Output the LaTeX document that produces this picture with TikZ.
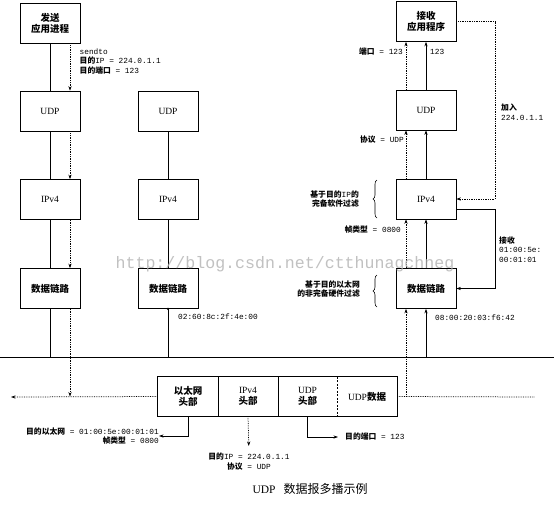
\documentclass[tikz,border=0pt]{standalone}
\usepackage{fontspec}
\setmainfont{Liberation Serif}
\setmonofont{Liberation Mono}
\newfontfamily\cjk{Noto Sans CJK SC}
\newcommand\zh[1]{{\cjk\bfseries #1}}
\usetikzlibrary{arrows.meta,decorations.pathreplacing}
\begin{document}
\begin{tikzpicture}[x=1pt,y=-1pt,
  >={Stealth[length=4.5pt,width=3.2pt]},
  box/.style={draw,line width=0.7pt,fill=white,minimum width=60pt,minimum height=40pt,inner sep=0pt,align=center,font=\fontsize{9.5}{11}\selectfont},
  fbox/.style={minimum height=39pt,inner sep=0pt,align=center,font=\fontsize{9.5}{10.5}\selectfont},
  lbl/.style={inner sep=0pt,align=left,font=\ttfamily\fontsize{7.8}{9.5}\selectfont},
  lblr/.style={inner sep=0pt,align=right,font=\ttfamily\fontsize{7.8}{9.5}\selectfont},
  dline/.style={densely dotted,line width=0.75pt},
  sline/.style={line width=0.7pt},
  bracestyle/.style={decorate,decoration={brace,amplitude=4pt},line width=0.6pt}]
\useasboundingbox (0,0) rectangle (554,507);
\fill[white] (0,0) rectangle (554,507);

% column x helpers
\coordinate (xL) at (70,0);
\coordinate (xR) at (406,0);
\coordinate (xJ) at (495,0);
\coordinate (yK) at (0,209);
\coordinate (e0) at (0,357);
\coordinate (e1) at (554,357);
\coordinate (lend) at (11,397);
\coordinate (rend) at (535,397);

% boxes left
\node[box] (app1) at (50,23) {\zh{发送}\\\zh{应用进程}};
\node[box] (udp1) at (50,111) {UDP};
\node[box] (ip1) at (50,199.5) {IPv4};
\node[box] (dl1) at (50,288.5) {\zh{数据链路}};
% middle
\node[box] (udp2) at (168,111) {UDP};
\node[box] (ip2) at (168,199.5) {IPv4};
\node[box] (dl2) at (168,288.5) {\zh{数据链路}};
% right
\node[box] (app2) at (426,21.5) {\zh{接收}\\\zh{应用程序}};
\node[box] (udp3) at (426,110) {UDP};
\node[box] (ip3) at (426,199) {IPv4};
\node[box] (dl3) at (426,288.5) {\zh{数据链路}};

% ethernet
\draw[line width=1pt] (e0) -- (e1);

% frame
\node[fbox,minimum width=60pt] (f1) at (188,396.5) {\zh{以太网}\\\zh{头部}};
\node[fbox,minimum width=60pt] (f2) at (248,396.5) {IPv4\\\zh{头部}};
\node[fbox,minimum width=59pt] (f3) at (307.5,396.5) {UDP\\\zh{头部}};
\node[fbox,minimum width=60pt] (f4) at (367,396.5) {UDP\zh{数据}};
\draw[sline] (f1.north west) rectangle (f4.south east);
\draw[sline] (f1.north east) -- (f1.south east);
\draw[sline] (f2.north east) -- (f2.south east);
\draw[sline,dashed,dash pattern=on 2pt off 1.5pt] (f3.north east) -- (f3.south east);

% left solid
\draw[sline] (app1.south) -- (udp1.north);
\draw[sline] (udp1.south) -- (ip1.north);
\draw[sline] (ip1.south) -- (dl1.north);
\draw[sline] (dl1.south) -- (dl1.south |- e0);
% left dotted
\draw[dline,->] (app1.south -| xL) -- (udp1.north -| xL);
\draw[dline,->] (udp1.south -| xL) -- (ip1.north -| xL);
\draw[dline,->] (ip1.south -| xL) -- (dl1.north -| xL);
\draw[dline,->] (dl1.south -| xL) -- (f1.west -| xL);
\draw[dline,->] (f1.west) -- (lend);

% middle solid
\draw[sline] (udp2.south) -- (ip2.north);
\draw[sline] (ip2.south) -- (dl2.north);
\draw[sline] (dl2.south) -- (dl2.south |- e0);
\fill (dl2.south) circle (1.3pt);

% right solid
\draw[sline,->] (dl3.south |- e0) -- (dl3.south);
\draw[sline,->] (dl3.north) -- (ip3.south);
\draw[sline,->] (ip3.north) -- (udp3.south);
\draw[sline,->] (udp3.north) -- (app2.south);
% right dotted
\draw[dline] (f4.east) -- (rend);
\draw[dline,->] (f4.east -| xR) -- (dl3.south -| xR);
\draw[dline,->] (dl3.north -| xR) -- (ip3.south -| xR);
\draw[dline,->] (ip3.north -| xR) -- (udp3.south -| xR);
\draw[dline,->] (udp3.north -| xR) -- (app2.south -| xR);

% loops
\draw[dline,->] (app2.east) -- (app2.east -| xJ) -- (ip3.east -| xJ) -- (ip3.east);
\draw[sline,->] (ip3.east |- yK) -- (yK -| xJ) -- (dl3.east -| xJ) -- (dl3.east);

% braces
\draw[bracestyle] (377,218) -- (377,180);
\draw[bracestyle] (377,307) -- (377,275);

% labels
\node[lbl,anchor=north west] (send) at (79.5,48.5) {sendto\\\zh{目的}IP = 224.0.1.1\\\zh{目的端口} = 123};
\node[lblr,anchor=east] (port1) at (403,51.5) {\zh{端口} = 123};
\node[lbl,anchor=west] (port2) at (430,51.5) {123};
\node[lblr,anchor=east] (proto) at (404,139.5) {\zh{协议} = UDP};
\node[lblr,anchor=east] (br1) at (359,199) {\zh{基于目的}IP\zh{的}\\\zh{完备软件过滤}};
\node[lblr,anchor=east] (ftype) at (401,230) {\zh{帧类型} = 0800};
\node[lblr,anchor=east] (br2) at (360,289) {\zh{基于目的以太网}\\\zh{的非完备硬件过滤}};
\node[lbl,anchor=west] (join) at (501,112) {\zh{加入}\\224.0.1.1};
\node[lbl,anchor=west] (recv) at (499,249.5) {\zh{接收}\\01:00:5e:\\00:01:01};
\node[lbl,anchor=west] (mac2) at (178,317) {02:60:8c:2f:4e:00};
\node[lbl,anchor=west] (mac3) at (435,318) {08:00:20:03:f6:42};

% frame annotations
\node[lblr,anchor=east] (lab1) at (159,436) {\zh{目的以太网} = 01:00:5e:00:01:01\\\zh{帧类型} = 0800};
\draw[sline,->] (f1.south) |- (lab1.east);
\node[inner sep=0pt,align=center,font=\ttfamily\fontsize{7.8}{9.5}\selectfont,anchor=north] (lab2) at (249,453) {\zh{目的}IP = 224.0.1.1\\\zh{协议} = UDP};
\draw[dline,->,shorten >=7pt] (f2.south) -- (lab2.north);
\node[lbl,anchor=west] (lab3) at (345,437) {\zh{目的端口} = 123};
\draw[sline,->,shorten >=7pt] (f3.south) |- (lab3.west);

% title
\node[inner sep=0pt,font=\fontsize{11.5}{13}\selectfont] (title) at (310,489) {UDP\hspace{8pt}{\cjk\fontsize{12}{13}\selectfont 数据报多播示例}};

% watermark
\node[inner sep=0pt,text=black!30,opacity=0.8,font=\ttfamily\fontsize{16.6}{18}\selectfont] (wm) at (285,264) {http://blog.csdn.net/ctthunagchneg};
\end{tikzpicture}
\end{document}
